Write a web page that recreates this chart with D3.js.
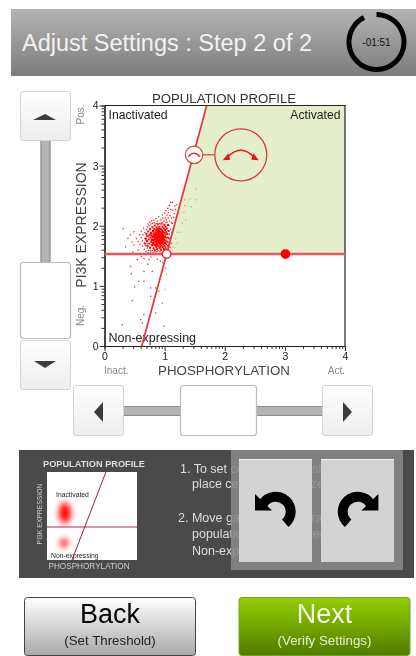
<!DOCTYPE html>
<html>
<head>
<meta charset="utf-8">
<script src="https://cdnjs.cloudflare.com/ajax/libs/d3/7.8.5/d3.min.js"></script>
<style>
  html, body { margin: 0; padding: 0; background: #fff; }
  svg { display: block; font-family: "Liberation Sans", Arial, sans-serif; filter: blur(0.3px); }
</style>
</head>
<body>
<div id="chart"></div>
<script>
// [phosphorylation, pi3k]
const denseCells = [
  [0.66,1.72],[0.67,1.8],[0.68,1.88],[0.69,1.76],[0.7,1.84],[0.7,1.68],[0.71,1.92],[0.72,1.79],[0.73,1.72],[0.73,1.86],
  [0.74,1.65],[0.74,1.96],[0.75,1.82],[0.76,1.75],[0.76,1.9],[0.77,1.69],[0.77,1.85],[0.78,1.79],[0.78,1.99],[0.79,1.73],
  [0.79,1.93],[0.8,1.64],[0.8,1.83],[0.8,1.88],[0.81,1.77],[0.81,1.7],[0.81,1.96],[0.82,1.85],[0.82,2.02],[0.82,1.61],
  [0.83,1.74],[0.83,1.8],[0.83,1.9],[0.84,1.67],[0.84,1.84],[0.84,1.94],[0.85,1.77],[0.85,1.87],[0.85,1.99],[0.86,1.71],
  [0.86,1.81],[0.86,1.92],[0.86,1.63],[0.87,1.75],[0.87,1.85],[0.87,2.04],[0.88,1.68],[0.88,1.79],[0.88,1.89],[0.88,1.96],
  [0.89,1.73],[0.89,1.83],[0.89,1.93],[0.9,1.65],[0.9,1.77],[0.9,1.87],[0.9,2.0],[0.91,1.71],[0.91,1.81],[0.91,1.91],
  [0.92,1.75],[0.92,1.85],[0.92,1.96],[0.92,1.62],[0.93,1.69],[0.93,1.79],[0.93,1.89],[0.93,2.05],[0.94,1.83],[0.94,1.73],
  [0.94,1.94],[0.95,1.66],[0.95,1.87],[0.95,1.77],[0.95,2.0],[0.96,1.81],[0.96,1.71],[0.96,1.91],[0.97,1.85],[0.97,1.75],
  [0.97,1.97],[0.97,1.63],[0.98,1.68],[0.98,1.79],[0.98,1.9],[0.98,2.03],[0.99,1.83],[0.99,1.73],[0.99,1.95],[1.0,1.87],
  [1.0,1.77],[1.0,2.0],[1.0,1.65],[1.01,1.71],[1.01,1.91],[1.02,1.82],[1.02,1.97],[1.03,1.75],[1.03,1.88],[1.04,1.68],
  [1.04,2.03],[1.05,1.81],[1.05,1.93],[0.79,1.78],[0.8,1.74],[0.82,1.78],[0.82,1.82],[0.83,1.86],[0.84,1.75],[0.84,1.8],
  [0.85,1.83],[0.85,1.72],[0.86,1.77],[0.86,1.87],[0.87,1.79],[0.87,1.82],[0.87,1.9],[0.88,1.84],[0.88,1.74],[0.89,1.87],
  [0.89,1.78],[0.9,1.82],[0.9,1.72],[0.9,1.92],[0.91,1.86],[0.91,1.76],[0.92,1.8],[0.92,1.9],[0.93,1.84],[0.93,1.74],
  [0.94,1.78],[0.94,1.88],[0.95,1.82],[0.95,1.92],[0.96,1.76],[0.96,1.86],[0.83,1.7],[0.84,1.89],[0.86,1.96],[0.88,1.93],
  [0.81,1.87],[0.79,1.83],[0.77,1.78],[0.75,1.88],[0.78,1.7],[0.8,1.92],[0.89,1.97],[0.91,1.67],[0.85,1.67],[0.97,1.8]
];
const haloCells = [
  [0.52,1.8],[0.55,1.75],[0.57,1.86],[0.58,1.7],[0.6,1.81],[0.6,1.92],[0.62,1.67],[0.62,1.76],[0.63,1.86],[0.64,1.97],
  [0.65,1.62],[0.65,1.72],[0.66,1.8],[0.66,1.9],[0.67,1.68],[0.68,1.58],[0.68,1.77],[0.69,1.84],[0.69,1.95],[0.7,1.64],
  [0.7,1.71],[0.7,1.99],[0.71,2.04],[0.72,1.6],[0.72,1.56],[0.73,2.01],[0.74,2.07],[0.75,1.6],[0.76,1.57],[0.76,2.04],
  [0.77,2.09],[0.78,1.6],[0.79,2.05],[0.8,1.57],[0.81,2.1],[0.82,2.06],[0.83,1.58],[0.84,2.13],[0.85,2.05],[0.86,1.58],
  [0.87,2.09],[0.88,1.6],[0.89,2.16],[0.9,2.05],[0.91,1.58],[0.92,2.11],[0.93,1.6],[0.94,1.56],[0.95,2.06],[0.95,2.19],
  [0.96,2.14],[0.97,1.58],[0.98,2.09],[0.99,2.22],[1.0,1.6],[1.0,2.14],[1.01,2.06],[1.01,2.26],[1.02,1.62],[1.02,2.11],
  [1.03,2.19],[1.03,2.07],[1.04,1.59],[1.04,2.3],[1.05,2.14],[1.05,2.23],[1.06,1.72],[1.06,2.02],[1.07,1.87],[1.07,2.09],
  [1.07,2.35],[1.08,1.65],[1.08,1.78],[1.08,2.18],[1.09,1.95],[1.09,2.28],[1.1,2.06],[1.1,2.14],[1.1,1.72],[1.11,1.9],
  [1.12,2.05],[1.12,2.27],[1.13,1.96],[1.14,2.15],[1.15,2.21],[1.16,2.34],[1.09,2.4],[1.12,2.4],[1.17,2.28],[1.19,2.36]
];
const outlierCells = [
  [0.3,1.96],[0.34,1.66],[0.38,1.8],[0.42,1.86],[0.45,1.74],[0.48,1.69],[0.48,1.91],[0.46,1.57],[0.55,1.61],
  [0.536,1.448],[0.646,1.464],[0.729,1.448],[0.868,1.453],[0.424,1.336],[0.646,1.253],[0.785,1.253],[1.007,1.309],
  [0.436,1.21],[0.562,1.087],[0.646,1.087],[0.491,0.993],[0.757,0.976],[0.84,0.976],[0.895,0.92],[0.452,0.765],
  [0.757,0.837],[0.812,0.754],[0.951,0.727],[0.646,0.532],[0.591,0.449],[0.619,0.394],[0.84,0.56],[0.286,0.366],
  [0.978,0.338],[0.702,0.366],[0.6,1.5],[0.76,1.49],[0.92,1.42],[0.71,1.37],[0.96,1.4]
];
const rightCells = [
  [1.506,2.624],[1.411,2.457],[1.506,2.441],[1.323,2.441],[1.323,2.346],[1.434,2.329],[1.311,2.235],[1.228,2.208],
  [1.339,2.108],[1.284,2.052],[1.201,1.902],[1.173,1.792],[1.25,1.9],[1.14,1.65],[1.2,1.72],[1.02,1.2],[1.0,0.95]
];

const xTicks = [0, 1, 2, 3, 4];
const yTicks = [0, 1, 2, 3, 4];
const decadeMinor = [0.301, 0.477, 0.602, 0.699, 0.778, 0.845, 0.903, 0.954];

// gate positions
const horizGate = 1.53;
const slantBottomX = 0.62;
const slantTopX = 1.70;
const slideHandleX = 3.01;
const crossX = 1.033;
const rotateHandle = [1.49, 3.18];

const insetGateY = 1.5;
const insetSlant = [1.11, 2.62];
const insetBlobs = [[0.8, 2.14, 6, 10.5], [0.76, 0.77, 4, 4]];

const panelLines = [
  "1. To set center cutoffs, slide",
  "place center on the size",
  "2. Move gates and separate",
  "populations : Inactivated",
  "Non-expressing."
];
const panelX = [180, 192, 178, 192, 192];
const panelY = [473, 488, 522, 538, 555];

const W = 416, H = 656;
const svg = d3.select("#chart").append("svg").attr("width", W).attr("height", H);
const defs = svg.append("defs");

function vgrad(id, top, bottom) {
  const g = defs.append("linearGradient").attr("id", id)
    .attr("x1", 0).attr("x2", 0).attr("y1", 0).attr("y2", 1);
  g.append("stop").attr("offset", "0%").attr("stop-color", top);
  g.append("stop").attr("offset", "100%").attr("stop-color", bottom);
}
vgrad("headGrad", "#b4b4b4", "#7c7c7c");
vgrad("btnGrad", "#ffffff", "#ededed");
vgrad("backGrad", "#ffffff", "#a9a9a9");
vgrad("nextGrad", "#94d000", "#4e7c00");
defs.append("filter").attr("id", "soft").attr("x", "-80%").attr("y", "-80%").attr("width", "260%").attr("height", "260%")
  .append("feGaussianBlur").attr("stdDeviation", 3);

// header
svg.append("rect").attr("x", 11).attr("y", 9).attr("width", 405).attr("height", 67).attr("fill", "url(#headGrad)");
svg.append("text").attr("x", 22).attr("y", 51).attr("font-size", 23.5).attr("fill", "#f2f2f2")
  .text("Adjust Settings : Step 2 of 2");
const timer = svg.append("g").attr("transform", "translate(376.5,42)");
timer.append("path")
  .attr("d", d3.arc()({ innerRadius: 25, outerRadius: 30, startAngle: 0, endAngle: 2 * Math.PI * 0.925 }))
  .attr("fill", "#000");
timer.append("text").attr("y", 3.5).attr("text-anchor", "middle").attr("font-size", 10).attr("fill", "#111").text("-01:51");

// plot
const x = d3.scaleLinear().domain([0, 4]).range([104.5, 345]);
const y = d3.scaleLinear().domain([0, 4]).range([346, 105.5]);

svg.append("path")
  .attr("d", d3.line().x(d => x(d[0])).y(d => y(d[1]))([[crossX, horizGate], [4, horizGate], [4, 4], [slantTopX, 4]]))
  .attr("fill", "#e4eecb");

svg.append("g").selectAll("rect").data(rightCells).join("rect")
  .attr("x", d => x(d[0])).attr("y", d => y(d[1])).attr("width", 1.2).attr("height", 1.2)
  .attr("fill", "#e0937a");
svg.append("g").selectAll("rect").data(outlierCells.concat(haloCells)).join("rect")
  .attr("x", d => x(d[0])).attr("y", d => y(d[1])).attr("width", 1.3).attr("height", 1.3)
  .attr("fill", "#ee2a2a");
svg.append("g").selectAll("rect").data(denseCells).join("rect")
  .attr("x", d => x(d[0])).attr("y", d => y(d[1])).attr("width", 2).attr("height", 2)
  .attr("fill", "#ff0000");

// frame top and right
svg.append("path").attr("d", `M${x(0)},${y(4)}H${x(4)}V${y(0)}`).attr("fill", "none").attr("stroke", "#222").attr("stroke-width", 1.2);

function minorOf(ticks) {
  const out = [];
  ticks.slice(0, -1).forEach(t => decadeMinor.forEach(m => out.push(t + m)));
  return out;
}
const axisLeftMinor = d3.axisLeft(y).tickValues(minorOf(yTicks)).tickSize(3).tickFormat("");
const axisBottomMinor = d3.axisBottom(x).tickValues(minorOf(xTicks)).tickSize(3).tickFormat("");
const axisLeftMajor = d3.axisLeft(y).tickValues(yTicks).tickSize(5).tickSizeOuter(0).tickPadding(1).tickFormat(d3.format("d"));
const axisBottomMajor = d3.axisBottom(x).tickValues(xTicks).tickSize(5).tickSizeOuter(0).tickPadding(2).tickFormat(d3.format("d"));
[
  [axisLeftMinor, `translate(${x(0)},0)`],
  [axisBottomMinor, `translate(0,${y(0)})`],
  [axisLeftMajor, `translate(${x(0)},0)`],
  [axisBottomMajor, `translate(0,${y(0)})`]
].forEach(([ax, t]) => {
  const g = svg.append("g").attr("transform", t).call(ax);
  g.attr("font-family", null).attr("font-size", 10.5);
  g.selectAll("line").attr("stroke", "#333");
  g.select(".domain").attr("stroke", "#222").attr("stroke-width", 1.2);
  g.selectAll("text").attr("fill", "#222");
});

svg.append("text").attr("x", 224).attr("y", 103).attr("text-anchor", "middle").attr("font-size", 13.2).attr("fill", "#333").text("POPULATION PROFILE");
svg.append("text").attr("x", 224).attr("y", 375).attr("text-anchor", "middle").attr("font-size", 13.3).attr("fill", "#444").text("PHOSPHORYLATION");
svg.append("text").attr("transform", "translate(86,225) rotate(-90)").attr("text-anchor", "middle").attr("font-size", 14).attr("fill", "#444").text("PI3K EXPRESSION");
svg.append("text").attr("x", 108.5).attr("y", 119).attr("font-size", 12.2).attr("fill", "#222").text("Inactivated");
svg.append("text").attr("x", 340.5).attr("y", 119).attr("text-anchor", "end").attr("font-size", 12.2).attr("fill", "#222").text("Activated");
svg.append("text").attr("x", 108.5).attr("y", 342).attr("font-size", 12.5).attr("fill", "#222").text("Non-expressing");
svg.append("text").attr("x", 104).attr("y", 374).attr("font-size", 10).attr("fill", "#888").text("Inact.");
svg.append("text").attr("x", 345).attr("y", 374).attr("text-anchor", "end").attr("font-size", 10).attr("fill", "#888").text("Act.");
svg.append("text").attr("transform", "translate(84,114.5) rotate(-90)").attr("text-anchor", "middle").attr("font-size", 10).attr("fill", "#888").text("Pos.");
svg.append("text").attr("transform", "translate(84,315.5) rotate(-90)").attr("text-anchor", "middle").attr("font-size", 10).attr("fill", "#888").text("Neg.");

// gate lines and handles
svg.append("line").attr("x1", x(0)).attr("x2", x(4)).attr("y1", y(horizGate)).attr("y2", y(horizGate))
  .attr("stroke", "#ee5560").attr("stroke-width", 2.4);
svg.append("line").attr("x1", x(slantBottomX)).attr("x2", x(slantTopX)).attr("y1", y(0)).attr("y2", y(4))
  .attr("stroke", "#e8343c").attr("stroke-width", 1.7);
svg.append("circle").attr("cx", x(slideHandleX)).attr("cy", y(horizGate)).attr("r", 4.8).attr("fill", "#f50000");
svg.append("circle").attr("cx", x(crossX)).attr("cy", y(horizGate)).attr("r", 4.3).attr("fill", "#fff").attr("stroke", "#e03038").attr("stroke-width", 1.5);

const hx = x(rotateHandle[0]), hy = y(rotateHandle[1]);
const bigX = hx + 46.7;
svg.append("line").attr("x1", hx + 8.7).attr("x2", bigX - 26).attr("y1", hy).attr("y2", hy).attr("stroke", "#dc3a3e").attr("stroke-width", 1.2);
svg.append("circle").attr("cx", hx).attr("cy", hy).attr("r", 8.7).attr("fill", "#fff").attr("stroke", "#dc3a3e").attr("stroke-width", 1.2);
svg.append("circle").attr("cx", bigX).attr("cy", hy).attr("r", 26).attr("fill", "none").attr("stroke", "#dc3a3e").attr("stroke-width", 1.3);

function rockArrows(cx, cy, s, w) {
  const g = svg.append("g").attr("transform", `translate(${cx},${cy}) scale(${s})`);
  g.append("path").attr("d", "M-14,3Q0,-12 14,3")
    .attr("fill", "none").attr("stroke", "#e8141c").attr("stroke-width", w / s);
  g.append("path").attr("d", "M-18,5.5L-12.5,-1.5L-10.5,5Z").attr("fill", "#e8141c");
  g.append("path").attr("d", "M18,5.5L12.5,-1.5L10.5,5Z").attr("fill", "#e8141c");
}
rockArrows(hx, hy, 0.36, 1.2);
rockArrows(bigX, hy, 1, 1.4);

// slider controls
function box(px, py, w, h, fill) {
  svg.append("rect").attr("x", px + 0.5).attr("y", py + 0.5).attr("width", w - 1).attr("height", h - 1)
    .attr("rx", 2.5).attr("fill", fill).attr("stroke", "#d4d4d4");
}
function tri(points) {
  svg.append("path").attr("d", d3.line()(points) + "Z").attr("fill", "#3c3c3c");
}
function track(px, py, w, h) {
  svg.append("rect").attr("x", px).attr("y", py).attr("width", w).attr("height", h).attr("fill", "#b4b4b4");
  const vertical = h > w;
  if (vertical) {
    svg.append("path").attr("d", `M${px + 0.5},${py}V${py + h}M${px + w - 0.5},${py}V${py + h}`).attr("stroke", "#8c8c8c");
  } else {
    svg.append("path").attr("d", `M${px},${py + 0.5}H${px + w}M${px},${py + h - 0.5}H${px + w}`).attr("stroke", "#8c8c8c");
  }
}
track(40.5, 141, 10, 121);
box(20, 91, 51, 50, "url(#btnGrad)");
tri([[33, 120], [56, 120], [45, 114]]);
box(20, 340, 51, 50, "url(#btnGrad)");
tri([[34, 361], [56, 361], [45, 368]]);
svg.append("rect").attr("x", 20.5).attr("y", 262.5).attr("width", 50).attr("height", 76).attr("rx", 3).attr("fill", "#fff").attr("stroke", "#bbb").attr("stroke-width", 1.2);

track(124, 406, 198, 10);
box(73, 385, 51, 51, "url(#btnGrad)");
tri([[103, 402], [103, 422], [94, 412]]);
box(322, 385, 51, 51, "url(#btnGrad)");
tri([[343, 402], [343, 422], [352, 412]]);
svg.append("rect").attr("x", 180.5).attr("y", 385.5).attr("width", 76).attr("height", 50).attr("rx", 3).attr("fill", "#fff").attr("stroke", "#bbb").attr("stroke-width", 1.2);

// help panel
svg.append("rect").attr("x", 19).attr("y", 450).attr("width", 395).attr("height", 128).attr("fill", "#4a4a4a");

const ix = d3.scaleLinear().domain([0, 4]).range([47, 137]);
const iy = d3.scaleLinear().domain([0, 4]).range([560, 472]);
svg.append("rect").attr("x", ix(0)).attr("y", iy(4)).attr("width", ix(4) - ix(0)).attr("height", iy(0) - iy(4)).attr("fill", "#fff");
svg.append("g").selectAll("ellipse").data(insetBlobs).join("ellipse")
  .attr("cx", d => ix(d[0])).attr("cy", d => iy(d[1])).attr("rx", d => d[2]).attr("ry", d => d[3])
  .attr("fill", "#ff0000").attr("filter", "url(#soft)");
svg.append("line").attr("x1", ix(0)).attr("x2", ix(4)).attr("y1", iy(insetGateY)).attr("y2", iy(insetGateY)).attr("stroke", "#a8324f").attr("stroke-width", 1);
svg.append("line").attr("x1", ix(insetSlant[0])).attr("x2", ix(insetSlant[1])).attr("y1", iy(0)).attr("y2", iy(4)).attr("stroke", "#a01c40").attr("stroke-width", 1);
svg.append("text").attr("x", 94).attr("y", 467).attr("text-anchor", "middle").attr("font-size", 9.2).attr("font-weight", "bold").attr("fill", "#ddd").text("POPULATION PROFILE");
svg.append("text").attr("x", 89).attr("y", 569).attr("text-anchor", "middle").attr("font-size", 8.2).attr("fill", "#ccc").text("PHOSPHORYLATION");
svg.append("text").attr("transform", "translate(42,514) rotate(-90)").attr("text-anchor", "middle").attr("font-size", 6.8).attr("fill", "#ccc").text("PI3K EXPRESSION");
svg.append("text").attr("x", 56).attr("y", 497).attr("font-size", 6.8).attr("fill", "#222").text("Inactivated");
svg.append("text").attr("x", 51).attr("y", 558).attr("font-size", 6.8).attr("fill", "#222").text("Non-expressing");

svg.append("g").selectAll("text").data(panelLines).join("text")
  .attr("x", (d, i) => panelX[i]).attr("y", (d, i) => panelY[i])
  .attr("font-size", 12.5).attr("fill", "#dedede").text(d => d);

// undo and redo overlay
svg.append("rect").attr("x", 231).attr("y", 450).attr("width", 172).attr("height", 120).attr("fill", "#8a8a8a").attr("opacity", 0.85);
function turnButton(px, mirror) {
  svg.append("rect").attr("x", px).attr("y", 459).attr("width", 73).attr("height", 103).attr("fill", "#d3d3d3");
  svg.append("path").attr("d", `M${px},459.5H${px + 73}`).attr("stroke", "#f2f2f2");
  const g = svg.append("g");
  if (mirror) g.attr("transform", "translate(633.4,0) scale(-1,1)");
  g.append("path").attr("transform", "translate(275.7,511.7)")
    .attr("d", d3.arc()({ innerRadius: 10, outerRadius: 20, startAngle: -1.0, endAngle: 2.45 }))
    .attr("fill", "#000");
  g.append("path").attr("d", "M255,494V510.5H272Z").attr("fill", "#000");
}
turnButton(239, false);
turnButton(321, true);

// bottom buttons
function navButton(px, fill, stroke, color, subColor, label, sub) {
  svg.append("rect").attr("x", px + 0.5).attr("y", 597.5).attr("width", 171).attr("height", 58).attr("rx", 3)
    .attr("fill", fill).attr("stroke", stroke);
  svg.append("text").attr("x", px + 86).attr("y", 623).attr("text-anchor", "middle").attr("font-size", 27).attr("fill", color).text(label);
  svg.append("text").attr("x", px + 86).attr("y", 645).attr("text-anchor", "middle").attr("font-size", 13.3).attr("fill", subColor).text(sub);
}
navButton(24, "url(#backGrad)", "#444", "#000", "#222", "Back", "(Set Threshold)");
navButton(238.5, "url(#nextGrad)", "#7aa030", "#f4f8e8", "#e6efcf", "Next", "(Verify Settings)");
</script>
</body>
</html>
